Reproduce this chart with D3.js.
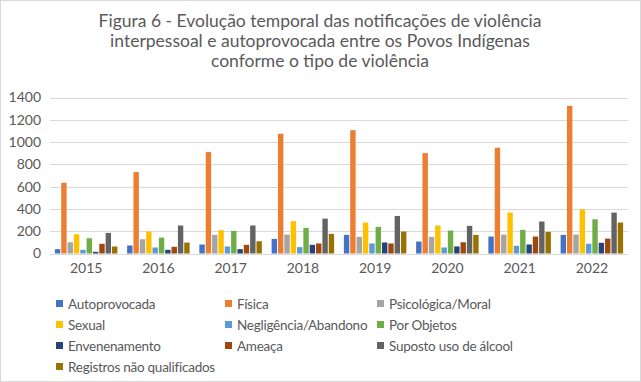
<!DOCTYPE html>
<html><head><meta charset="utf-8">
<script src="https://cdn.jsdelivr.net/npm/d3@7"></script>
<style>html,body{margin:0;padding:0;background:#fff}svg{display:block}</style>
</head><body>
<script>
const years = ["2015","2016","2017","2018","2019","2020","2021","2022"];
const series = ["Autoprovocada","Física","Psicológica/Moral","Sexual","Negligência/Abandono","Por Objetos","Envenenamento","Ameaça","Suposto uso de álcool","Registros não qualificados"];
const colors = ["#4472C4","#ED7D31","#A5A5A5","#FFC000","#5B9BD5","#70AD47","#264478","#9E480E","#636363","#997300"];
const autoprovocada = [39,72,81,131,167,107,152,167];
const fisica = [635,731,910,1075,1107,901,949,1325];
const psicologica = [101,128,167,170,149,149,170,170];
const sexual = [173,197,209,290,278,251,367,397];
const negligencia = [33,54,63,57,90,54,69,87];
const porObjetos = [137,143,203,230,239,206,212,307];
const envenenamento = [15,33,39,78,99,63,81,96];
const ameaca = [87,60,78,90,90,101,152,134];
const alcool = [185,251,251,313,337,248,287,367];
const registros = [63,98,110,176,197,167,194,278];
const yTicks = [0,200,400,600,800,1000,1200,1400];
const title = ["Figura 6 - Evolução temporal das notificações de violência","interpessoal e autoprovocada entre os Povos Indígenas","conforme o tipo de violência"];

const values = [autoprovocada,fisica,psicologica,sexual,negligencia,porObjetos,envenenamento,ameaca,alcool,registros];

const W=641,H=382;
const svg=d3.select("body").append("svg").attr("width",W).attr("height",H);
svg.append("rect").attr("x",0.5).attr("y",0.5).attr("width",W-1).attr("height",H-1).attr("fill","#fff").attr("stroke","#D9D9D9");

const font="Lato, 'Open Sans', sans-serif";
const tc="#595959";

svg.append("g").selectAll("text").data(title).join("text")
  .attr("x",320).attr("y",(d,i)=>27+i*20).attr("text-anchor","middle")
  .attr("font-family",font).attr("font-size",17.5).attr("fill",tc).text(d=>d);

const x0=d3.scaleBand().domain(years).range([50,628]).paddingInner(0.135).paddingOuter(0.0675);
const x1=d3.scaleBand().domain(series).range([0,x0.bandwidth()]).paddingInner(0.15);
const y=d3.scaleLinear().domain([0,1400]).range([253.5,97.5]);

const grid=svg.append("g");
grid.selectAll("line").data(yTicks).join("line")
  .attr("x1",50).attr("x2",628).attr("y1",d=>Math.round(y(d))+0.5).attr("y2",d=>Math.round(y(d))+0.5)
  .attr("stroke","#D9D9D9").attr("stroke-width",1);

const yAxis=d3.axisLeft(y).tickValues(yTicks).tickFormat(d3.format("d")).tickSize(0).tickPadding(5);
const ga=svg.append("g").attr("transform","translate(46,0)").call(yAxis);
ga.select(".domain").remove();
ga.selectAll("text").attr("font-family",font).attr("font-size",14).attr("fill",tc);

const xAxis=d3.axisBottom(x0).tickSize(0).tickPadding(9);
const gx=svg.append("g").attr("transform","translate(0,254)").call(xAxis);
gx.select(".domain").remove();
gx.selectAll("text").attr("font-family",font).attr("font-size",14).attr("fill",tc);

const gYears=svg.append("g").selectAll("g").data(years).join("g")
  .attr("transform",d=>`translate(${x0(d)},0)`);
gYears.selectAll("rect").data((d,i)=>series.map((s,k)=>({s,k,v:values[k][i]}))).join("rect")
  .attr("x",d=>x1(d.s)).attr("width",x1.bandwidth())
  .attr("y",d=>y(d.v)).attr("height",d=>y(0)-y(d.v))
  .attr("fill",d=>colors[d.k]);

const colX=[56,225,377];
const rowY=[304,325,346,367];
const leg=svg.append("g").selectAll("g").data(series).join("g")
  .attr("transform",(d,i)=>`translate(${colX[i%3]},${rowY[Math.floor(i/3)]})`);
leg.append("rect").attr("x",0).attr("y",-4).attr("width",7).attr("height",7).attr("fill",(d,i)=>colors[i]);
leg.append("text").attr("x",12).attr("y",5).attr("font-family",font).attr("font-size",13.5)
  .attr("letter-spacing",-0.25).attr("fill",tc).text(d=>d);
</script>
</body></html>
